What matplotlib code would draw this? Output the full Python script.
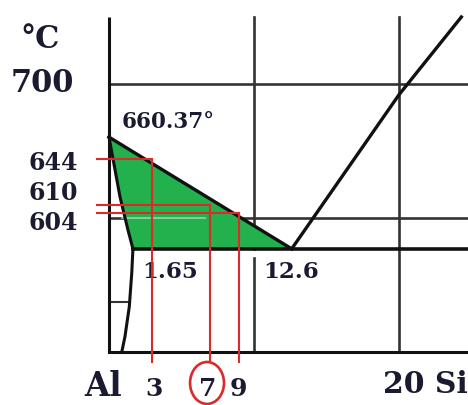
import numpy as np
import matplotlib
matplotlib.use("Agg")
import matplotlib.pyplot as plt
from matplotlib.patches import Polygon, Ellipse

# Al-Si phase diagram, aluminium-rich corner (wt.% Si vs. temperature in °C)
al_melt = 660.37
eutectic_t = 577.0
eutectic_x = 12.6
max_solubility = 1.65

liquidus_al_x = [0.0, 12.6]
liquidus_al_t = [660.37, 577.0]
solidus_x = [0.0, 0.76, 1.31, 1.65]
solidus_t = [660.37, 615.7, 591.0, 577.0]
solvus_x = [1.65, 1.57, 1.40, 1.10, 0.88]
solvus_t = [577.0, 559.0, 533.8, 511.4, 500.0]
liquidus_si_x = [12.6, 20.0, 24.3]
liquidus_si_t = [577.0, 692.0, 750.0]

grid_si = [10, 20]
grid_temp = [700, 600]

alloy_si = [3, 7, 9]
alloy_liquidus = [644, 610, 604]

t_top, t_bottom = 750, 500
x_right = 24.76

INK = "#1a1a30"
LINE = "#111111"
GRID = "#333333"
RED = "#dc2a2a"
GREEN = "#22b14c"

fig = plt.figure(figsize=(4.68, 4.05), dpi=100)
ax = fig.add_axes([0, 0, 1, 1])
ax.set_xlim(-7.517, 24.759)
ax.set_ylim(460.45, 762.69)
ax.axis("off")

# frame: temperature axis and composition baseline
ax.plot([0, 0], [t_top, t_bottom], color=LINE, lw=2.2, solid_capstyle="butt", zorder=3)
ax.plot([0, x_right], [t_bottom, t_bottom], color=LINE, lw=2.2, zorder=3)

# grid
ax.plot([grid_si[0], grid_si[0]], [t_top, eutectic_t], color=GRID, lw=1.9, zorder=1)
ax.plot([grid_si[0], grid_si[0]], [570, t_bottom], color=GRID, lw=1.9, zorder=1)
ax.plot([grid_si[1], grid_si[1]], [t_top, t_bottom], color=GRID, lw=1.9, zorder=1)
for t in grid_temp:
    ax.plot([0, x_right], [t, t], color=GRID, lw=1.9, zorder=1)
ax.plot([0, 1.3], [537.5, 537.5], color=GRID, lw=1.5, zorder=1)

# liquid + alpha two-phase field
liq = np.column_stack([liquidus_al_x, liquidus_al_t])
sol = np.column_stack([solidus_x, solidus_t])[::-1]
field = np.vstack([liq, [[max_solubility, eutectic_t]], sol])
ax.add_patch(Polygon(field, closed=True, facecolor=GREEN, edgecolor="none", zorder=2))
ax.plot([0.9, 6.6], [600, 600], color="#9fd0ae", lw=1.2, zorder=2.1)

# phase boundaries
ax.plot(liquidus_al_x, liquidus_al_t, color=LINE, lw=2.4, zorder=4)
ax.plot(solidus_x, solidus_t, color=LINE, lw=2.2, zorder=4)
ax.plot(solvus_x, solvus_t, color=LINE, lw=2.2, zorder=4)
ax.plot(liquidus_si_x, liquidus_si_t, color=LINE, lw=2.4, zorder=4)
ax.plot([max_solubility, x_right], [eutectic_t, eutectic_t], color=LINE, lw=2.6, zorder=4)

# alloy lines and their liquidus temperatures
for x, t in zip(alloy_si, alloy_liquidus):
    ax.plot([x, x], [492.5, t], color=RED, lw=1.5, zorder=5)
    ax.plot([-0.83, x], [t, t], color=RED, lw=1.5, zorder=5)

font = dict(family="DejaVu Serif", weight="bold", color=INK)

ax.text(-4.76, 726.9, "°C", ha="center", va="baseline", fontsize=22, **font)
ax.text(-4.62, 694.0, "700", ha="center", va="baseline", fontsize=22, **font)
ax.text(0.9, 667.2, f"{al_melt:.2f}°", ha="left", va="baseline", fontsize=15.5, **font)

label_base = [635.8, 613.4, 591.0]
for t, yb in zip(alloy_liquidus, label_base):
    ax.text(-2.14, yb, str(t), ha="right", va="baseline", fontsize=17, **font)

ax.text(4.2, 555.2, f"{max_solubility:.2f}", ha="center", va="baseline", fontsize=16.5, **font)
ax.text(12.55, 555.2, f"{eutectic_x:.1f}", ha="center", va="baseline", fontsize=16.5, **font)

ax.text(-0.41, 466.8, "Al", ha="center", va="baseline", fontsize=23.5, **font)
for x, xc in zip(alloy_si, [3.1, 6.83, 8.9]):
    ax.text(xc, 467.4, str(x), ha="center", va="baseline", fontsize=18, **font)
ax.text(18.9, 469.4, "20 Si", ha="left", va="baseline", fontsize=21.5, **font)

# highlight the 7 % alloy
ax.add_patch(Ellipse((6.76, 476.9), 2.34, 31.3, fill=False, edgecolor=RED, lw=1.9, zorder=6))

fig.savefig("out.png", dpi=100)
